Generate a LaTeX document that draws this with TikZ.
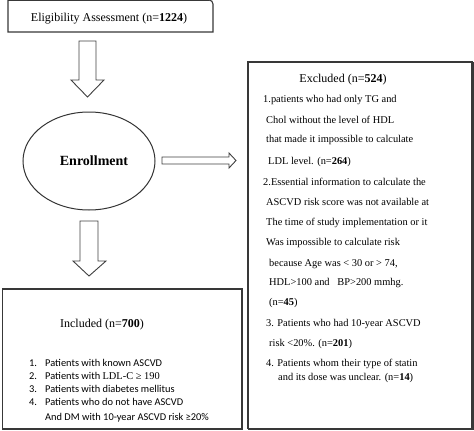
\documentclass[tikz,border=0pt]{standalone}
\usepackage{fontspec}
\usetikzlibrary{shapes.geometric}
\setmainfont{Liberation Serif}
\newfontfamily\calfont{Carlito}
\begin{document}
\begin{tikzpicture}[x=1pt,y=-1pt,
  frame/.style={draw=black!78,line width=1.1pt},
  blockarrow/.style={draw=black!75,line width=0.9pt,fill=white,line join=miter},
  title/.style={anchor=base,inner sep=0pt,font=\fontsize{12}{14}\selectfont},
  exline/.style={anchor=base west,inner sep=0pt,font=\fontsize{10.4}{12}\selectfont},
  inline/.style={anchor=base west,inner sep=0pt,font=\calfont\fontsize{10.4}{12}\selectfont}]
\useasboundingbox (0,0) rectangle (474,431);
% top box
\draw[frame] (8,0) -- (8,32) -- (213,32) -- (213,5) [rounded corners=4pt]-- (213,0) -- (150,0);
\draw[frame] (8,0.5) -- (209,0.5);
\node[title] (elig) at (109,21) {Eligibility Assessment (n=\textbf{1224})};
% arrow 1
\draw[blockarrow] (79,41) -- (96,41) -- (96,80) -- (104,80) -- (87.5,97) -- (71,80) -- (79,80) -- cycle;
% ellipse
\node[draw=black!80,line width=1pt,ellipse,minimum width=132pt,minimum height=98pt,inner sep=0pt] (enr) at (89,161) {};
\node[anchor=base,inner sep=0pt,font=\fontsize{14}{16}\selectfont\bfseries] (enrt) at (94,165.5) {Enrollment};
% right arrow
\draw[blockarrow] (162,157) -- (229,157) -- (229,153) -- (236,160.5) -- (229,168) -- (229,164) -- (162,164) -- cycle;
% arrow 2
\draw[blockarrow] (80,221) -- (98,221) -- (98,261) -- (106,261) -- (89,276) -- (73,261) -- (80,261) -- cycle;
% excluded box
\draw[draw=black!78,line width=1.1pt] (248,62) rectangle (472,428.5);
\draw[draw=black!78,line width=2pt] (248,428.5) -- (472.5,428.5) -- (472.5,62);
\node[title] (exct) at (343,82) {Excluded (n=\textbf{524})};
\node[exline] (e1) at (263,102.5) {1.patients who had only TG and};
\node[exline] (e2) at (266,123.5) {Chol without the level of HDL};
\node[exline] (e3) at (266,142.5) {that made it impossible to calculate};
\node[exline] (e4) at (268,164.5) {LDL level. (n=\textbf{264})};
\node[exline] (e5) at (263,185.5) {2.Essential information to calculate the};
\node[exline] (e6) at (266,205.5) {ASCVD risk score was not available at};
\node[exline] (e7) at (266,225.5) {The time of study implementation or it};
\node[exline] (e8) at (266,245.5) {Was impossible to calculate risk};
\node[exline] (e9) at (269,266.5) {because Age was < 30 or > 74,};
\node[exline] (e10) at (269,285.5) {HDL>100 and\ \ \ BP>200 mmhg.};
\node[exline] (e11) at (269,305.5) {(n=\textbf{45})};
\node[exline] (e12) at (266,326.5) {3. Patients who had 10-year ASCVD};
\node[exline] (e13) at (269,346.5) {risk <20\%. (n=\textbf{201})};
\node[exline] (e14) at (266,366.5) {4. Patients whom their type of statin};
\node[exline] (e15) at (278,380.5) {and its dose was unclear. (n=\textbf{14})};
% included box
\draw[frame] (2.5,289) rectangle (242,429);
\node[title] (inct) at (102,327) {Included (n=\textbf{700})};
\node[inline] (n1) at (29,366.5) {1.};
\node[inline] (i1) at (45,366.5) {Patients with known ASCVD};
\node[inline] (n2) at (29,379.5) {2.};
\node[inline] (i2) at (45,379.5) {Patients with {\rmfamily LDL-C ≥ 190}};
\node[inline] (n3) at (29,392.5) {3.};
\node[inline] (i3) at (45,392.5) {Patients with diabetes mellitus};
\node[inline] (n4) at (29,405.5) {4.};
\node[inline] (i4) at (45,405.5) {Patients who do not have ASCVD};
\node[inline] (i5) at (45,420) {And DM with 10-year ASCVD risk ≥20\%};
\end{tikzpicture}
\end{document}
